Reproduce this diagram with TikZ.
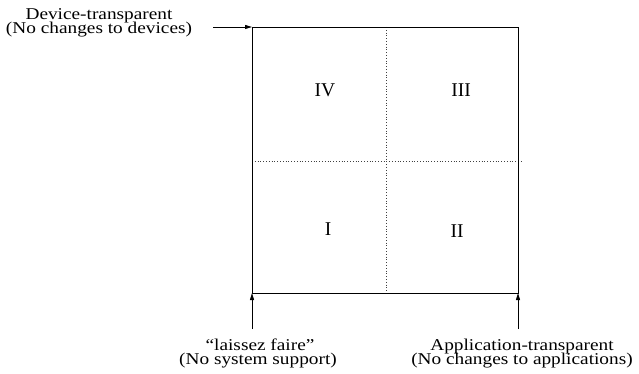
\documentclass[tikz,border=0pt]{standalone}
\usepackage{fontspec}
\setmainfont{Liberation Serif}
\newfontfamily\widefont[Ligatures=TeX,FakeStretch=1.17]{Liberation Serif}
\usetikzlibrary{arrows.meta}
\begin{document}
\begin{tikzpicture}[x=1pt,y=-1pt,
  frame/.style={line width=0.9pt,black},
  divider/.style={line width=0.8pt,black!75,dotted},
  pointer/.style={line width=0.9pt,-{Triangle[length=7pt,width=4pt]}},
  lbl/.style={inner sep=0pt,anchor=base,font=\widefont\fontsize{16.5}{16.5}\selectfont},
  quad/.style={inner sep=0pt,font=\fontsize{19.5}{19.5}\selectfont}]
\useasboundingbox (0,0) rectangle (639,374);
% corners of the square
\coordinate (tl) at (252,27);
\coordinate (tr) at (518,27);
\coordinate (bl) at (252,293);
\coordinate (br) at (518,293);
\coordinate (mt) at (386,27);
\coordinate (mb) at (386,293);
\coordinate (ml) at (252,161);
\coordinate (mr) at (521,161);
% dotted dividers
\draw[divider] (mt) -- (mb);
\draw[divider] (ml) -- (mr);
% outer square
\draw[frame] (tl) rectangle (br);
% quadrant labels
\node[quad] (q4) at (325,90) {IV};
\node[quad] (q3) at (461,90) {III};
\node[quad] (q1) at (328,229) {I};
\node[quad] (q2) at (457,231) {II};
% axis labels
\node[lbl] (dev1) at (99,19.5) {Device-transparent};
\node[lbl] (dev2) at (99,33.5) {(No changes to devices)};
\node[lbl] (lf1) at (260,350) {``laissez faire''};
\node[lbl] (lf2) at (258,364) {(No system support)};
\node[lbl] (app1) at (522,350.5) {Application-transparent};
\node[lbl] (app2) at (522,364.5) {(No changes to applications)};
% pointers
\coordinate (devs) at (213,27);
\coordinate (lfs) at (252,329);
\coordinate (apps) at (518,329);
\draw[pointer] (devs) -- (tl);
\draw[pointer] (lfs) -- (bl);
\draw[pointer] (apps) -- (br);
\end{tikzpicture}
\end{document}
